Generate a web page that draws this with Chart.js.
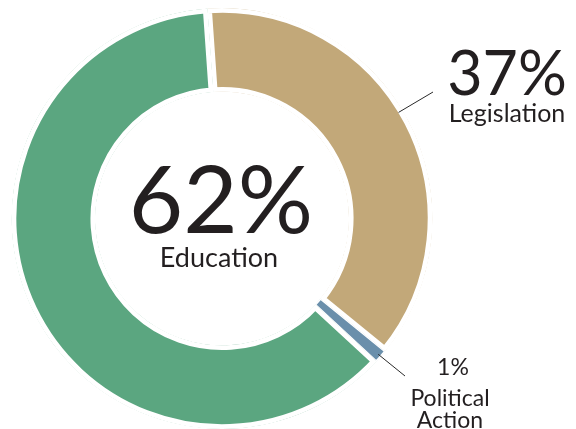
<!DOCTYPE html>
<html>
<head>
<meta charset="utf-8">
<script src="https://cdn.jsdelivr.net/npm/chart.js@4/dist/chart.umd.min.js"></script>
<style>
	html, body { margin: 0; padding: 0; background: #ffffff; }
	#wrap { width: 576px; height: 429px; }
</style>
</head>
<body>
<div id="wrap"><canvas id="doughnut"></canvas></div>
<script>
// données du graphique (sens horaire depuis le haut)
const categories = ['Legislation', 'Political Action', 'Education'];
const percents = [37, 1, 62];
const slice_colors = ['#c2a879', '#6a8fab', '#5ba680'];

const text_color = '#231f20';
const font_family = 'Lato, "Open Sans", sans-serif';

// labels dessinés à la main autour de l'anneau
const callouts = {
	id: 'callouts',
	afterDraw(chart) {
		const ctx = chart.ctx;
		const arcs = chart.getDatasetMeta(0).data;
		const cx = arcs[0].x;
		const cy = arcs[0].y;
		const r = arcs[0].outerRadius - 4.5;

		function edgePoint(deg, rad) {
			const a = (deg - 90) * Math.PI / 180;
			return [cx + Math.cos(a) * rad, cy + Math.sin(a) * rad];
		}

		ctx.save();
		ctx.fillStyle = text_color;
		ctx.textAlign = 'center';
		ctx.textBaseline = 'alphabetic';

		// centre : Education
		ctx.font = '400 94px ' + font_family;
		ctx.fillText(percents[2] + '%', 221, 233);
		ctx.font = '400 27px ' + font_family;
		ctx.fillText(categories[2], 219, 267);

		// Legislation
		ctx.font = '400 61px ' + font_family;
		ctx.fillText(percents[0] + '%', 507, 95);
		ctx.font = '400 25px ' + font_family;
		ctx.fillText(categories[0], 507, 122);

		// Political Action
		ctx.font = '400 23px ' + font_family;
		ctx.fillText(percents[1] + '%', 453, 375);
		ctx.fillText('Political', 450, 406);
		ctx.fillText('Action', 450, 428);

		// traits de rappel
		ctx.strokeStyle = '#2a2a2a';
		ctx.lineWidth = 1;
		let p = edgePoint(59, r);
		ctx.beginPath();
		ctx.moveTo(p[0], p[1]);
		ctx.lineTo(433, 92);
		ctx.stroke();

		const mid = (arcs[1].startAngle + arcs[1].endAngle) / 2 * 180 / Math.PI + 90;
		p = edgePoint(mid, r + 1);
		ctx.beginPath();
		ctx.moveTo(p[0], p[1]);
		ctx.lineTo(405, 376);
		ctx.stroke();
		ctx.restore();
	}
};

const data_doughnut = {
	labels: categories,
	datasets: [
		{
			data: percents,
			backgroundColor: slice_colors,
			borderColor: '#ffffff',
			borderWidth: [4.5, 1, 4.5],
			borderAlign: 'inner',
			hoverOffset: 0,
		},
	],
};

const config_doughnut = {
	type: 'doughnut',
	data: data_doughnut,
	options: {
		responsive: true,
		maintainAspectRatio: false,
		animation: false,
		rotation: -4,
		radius: 210.5,
		cutout: '60.2%',
		layout: {
			padding: { left: 0, right: 132, top: 8, bottom: 0 },
		},
		plugins: {
			legend: { display: false },
			tooltip: { enabled: false },
		},
	},
	plugins: [callouts],
};

const myDoughnut = new Chart(
	document.getElementById('doughnut'),
	config_doughnut
);
</script>
</body>
</html>
